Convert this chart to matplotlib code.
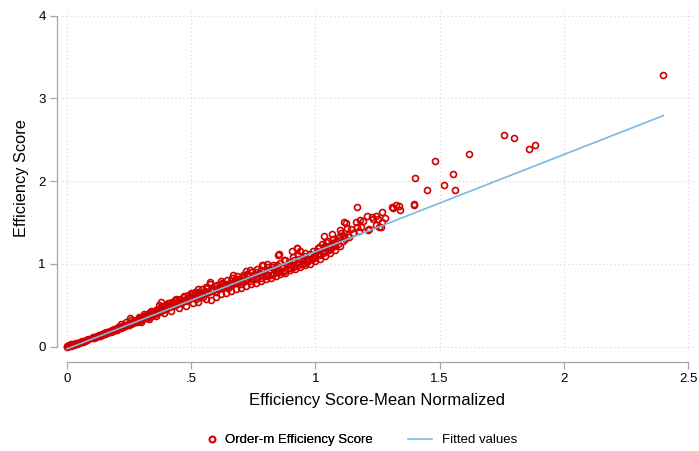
import matplotlib
matplotlib.use("Agg")
import matplotlib.pyplot as plt
from matplotlib.lines import Line2D
import numpy as np

plt.rcParams['font.family'] = ['Liberation Sans', 'DejaVu Sans']

# ---- data ----
# Efficiency Score-Mean Normalized (x) and Order-m Efficiency Score (y)
seg_a_x = [0.000, 0.003, 0.006, 0.008, 0.011, 0.014, 0.016, 0.019, 0.022, 0.025, 0.028, 0.031, 0.034,
           0.038, 0.041, 0.045, 0.048, 0.052, 0.056, 0.060, 0.064, 0.068, 0.072, 0.076, 0.080, 0.084]
seg_a_y = [0.000, 0.008, 0.004, 0.015, 0.010, 0.020, 0.012, 0.025, 0.018, 0.030, 0.024, 0.036, 0.030,
           0.042, 0.035, 0.048, 0.043, 0.055, 0.050, 0.062, 0.057, 0.072, 0.066, 0.080, 0.075, 0.090]

seg_b_x = [0.100, 0.104, 0.108, 0.112, 0.116, 0.120, 0.124, 0.128, 0.132, 0.136, 0.140, 0.144, 0.148,
           0.152, 0.156, 0.160, 0.164, 0.168, 0.172, 0.176, 0.180, 0.184, 0.188, 0.192, 0.196]
seg_b_y = [0.100, 0.112, 0.105, 0.120, 0.113, 0.128, 0.121, 0.136, 0.127, 0.145, 0.138, 0.152, 0.146,
           0.165, 0.154, 0.172, 0.163, 0.180, 0.170, 0.192, 0.178, 0.200, 0.188, 0.210, 0.197]

seg_c_x = [0.200, 0.204, 0.208, 0.212, 0.216, 0.220, 0.224, 0.228, 0.232, 0.236, 0.240, 0.244, 0.248,
           0.252, 0.256, 0.260, 0.264, 0.268, 0.272, 0.276, 0.280, 0.284, 0.288, 0.292, 0.296]
seg_c_y = [0.215, 0.205, 0.230, 0.218, 0.240, 0.226, 0.250, 0.236, 0.262, 0.245, 0.300, 0.256, 0.275,
           0.262, 0.290, 0.272, 0.300, 0.282, 0.310, 0.292, 0.322, 0.300, 0.330, 0.310, 0.340]

seg_d_x = [0.300, 0.304, 0.308, 0.312, 0.316, 0.320, 0.324, 0.328, 0.332, 0.336, 0.340, 0.344, 0.348,
           0.352, 0.356, 0.360, 0.364, 0.368, 0.372, 0.376, 0.380, 0.384, 0.388, 0.392, 0.396]
seg_d_y = [0.318, 0.355, 0.330, 0.365, 0.340, 0.380, 0.350, 0.392, 0.360, 0.400, 0.372, 0.412, 0.385,
           0.425, 0.396, 0.440, 0.405, 0.455, 0.418, 0.470, 0.430, 0.495, 0.442, 0.480, 0.452]

seg_e_x = [0.400, 0.404, 0.408, 0.412, 0.416, 0.420, 0.424, 0.428, 0.432, 0.436, 0.440, 0.444, 0.448,
           0.452, 0.456, 0.460, 0.464, 0.468, 0.472, 0.476, 0.480, 0.484, 0.488, 0.492, 0.496]
seg_e_y = [0.500, 0.460, 0.520, 0.472, 0.505, 0.485, 0.535, 0.492, 0.520, 0.505, 0.560, 0.515, 0.545,
           0.525, 0.575, 0.535, 0.560, 0.548, 0.595, 0.555, 0.580, 0.565, 0.620, 0.575, 0.600]

seg_f_x = [0.500, 0.505, 0.510, 0.515, 0.520, 0.525, 0.530, 0.535, 0.540, 0.545, 0.550, 0.555, 0.560,
           0.565, 0.570, 0.575, 0.580, 0.585, 0.590, 0.595]
seg_f_y = [0.585, 0.640, 0.595, 0.625, 0.605, 0.660, 0.612, 0.645, 0.625, 0.690, 0.635, 0.665, 0.648,
           0.710, 0.655, 0.780, 0.665, 0.700, 0.680, 0.735]

seg_g_x = [0.600, 0.605, 0.610, 0.615, 0.620, 0.625, 0.630, 0.635, 0.640, 0.645, 0.650, 0.655, 0.660,
           0.665, 0.670, 0.675, 0.680, 0.685, 0.690, 0.695]
seg_g_y = [0.690, 0.745, 0.700, 0.720, 0.712, 0.770, 0.722, 0.750, 0.735, 0.800, 0.745, 0.770, 0.755,
           0.830, 0.765, 0.790, 0.775, 0.850, 0.790, 0.815]

seg_h_x = [0.700, 0.705, 0.710, 0.715, 0.720, 0.725, 0.730, 0.735, 0.740, 0.745, 0.750, 0.755, 0.760,
           0.765, 0.770, 0.775, 0.780, 0.785, 0.790, 0.795]
seg_h_y = [0.800, 0.845, 0.785, 0.830, 0.800, 0.880, 0.815, 0.855, 0.790, 0.900, 0.830, 0.870, 0.815,
           0.940, 0.845, 0.890, 0.830, 0.980, 0.860, 0.910]

seg_i_x = [0.800, 0.805, 0.810, 0.815, 0.820, 0.825, 0.830, 0.835, 0.840, 0.845, 0.850, 0.855, 0.860,
           0.865, 0.870, 0.875, 0.880, 0.885, 0.890, 0.895, 0.900, 0.907, 0.927, 0.940]
seg_i_y = [0.850, 1.000, 0.870, 0.920, 0.860, 0.960, 0.880, 0.935, 0.895, 0.990, 0.900, 1.120, 0.915,
           0.960, 0.905, 1.040, 0.930, 0.985, 0.945, 1.020, 0.950, 1.160, 1.190, 1.150]

seg_j_x = [0.905, 0.910, 0.915, 0.920, 0.925, 0.930, 0.935, 0.945, 0.950, 0.955, 0.960, 0.965, 0.970,
           0.975, 0.980, 0.985, 0.990, 0.995]
seg_j_y = [0.990, 0.960, 1.040, 0.975, 1.010, 0.990, 1.060, 1.000, 1.040, 1.010, 1.090, 1.025, 1.060,
           1.040, 1.120, 1.055, 1.085, 1.065]

seg_k_x = [1.000, 1.005, 1.010, 1.015, 1.020, 1.025, 1.033, 1.030, 1.035, 1.040, 1.045, 1.050, 1.055,
           1.060, 1.065, 1.069, 1.073, 1.075, 1.080, 1.085, 1.090, 1.095, 1.100, 1.105]
seg_k_y = [1.080, 1.160, 1.100, 1.200, 1.110, 1.240, 1.340, 1.130, 1.190, 1.150, 1.260, 1.280, 1.170,
           1.220, 1.190, 1.360, 1.300, 1.230, 1.210, 1.270, 1.240, 1.320, 1.410, 1.370]

seg_l_x = [1.110, 1.115, 1.117, 1.120, 1.123, 1.127, 1.130, 1.135, 1.143, 1.150, 1.163, 1.166, 1.167,
           1.175, 1.180, 1.183, 1.190, 1.208, 1.210, 1.217, 1.230, 1.231, 1.244, 1.245, 1.251, 1.257,
           1.264, 1.270, 1.270, 1.280]
seg_l_y = [1.280, 1.330, 1.510, 1.300, 1.490, 1.430, 1.350, 1.320, 1.420, 1.370, 1.500, 1.680, 1.440,
           1.400, 1.530, 1.440, 1.520, 1.580, 1.410, 1.420, 1.570, 1.540, 1.575, 1.470, 1.535, 1.440,
           1.450, 1.630, 1.510, 1.550]

seg_m_x = [1.307, 1.313, 1.325, 1.337, 1.342, 1.396, 1.398, 1.400, 1.450, 1.480, 1.517, 1.555, 1.560,
           1.620, 1.760, 1.800, 1.860, 1.885, 2.400]
seg_m_y = [1.680, 1.670, 1.710, 1.700, 1.650, 1.720, 1.710, 2.040, 1.895, 2.240, 1.950, 2.080, 1.890,
           2.330, 2.550, 2.520, 2.390, 2.430, 3.280]

# lower edge of the dense band
seg_n_x = [0.30, 0.33, 0.36, 0.39, 0.42, 0.45, 0.48, 0.51, 0.53, 0.56, 0.58, 0.60, 0.62, 0.64, 0.66,
           0.68, 0.70, 0.72, 0.74, 0.76, 0.78, 0.80, 0.82, 0.84, 0.86, 0.88, 0.90, 0.92, 0.94, 0.96,
           0.98, 1.00, 1.02, 1.04, 1.06, 1.08, 1.10]
seg_n_y = [0.30, 0.33, 0.37, 0.40, 0.43, 0.46, 0.49, 0.52, 0.54, 0.57, 0.56, 0.60, 0.63, 0.65, 0.67,
           0.69, 0.71, 0.73, 0.75, 0.77, 0.79, 0.81, 0.83, 0.85, 0.88, 0.89, 0.92, 0.94, 0.96, 0.98,
           1.00, 1.03, 1.06, 1.09, 1.13, 1.17, 1.22]

# upper side of the dense band
seg_o_x = [0.43, 0.46, 0.49, 0.52, 0.54, 0.57, 0.59, 0.61, 0.63, 0.66, 0.68, 0.71, 0.73, 0.76, 0.78,
           0.81, 0.83, 0.86, 0.88, 0.91, 0.93, 0.96, 0.99, 1.01, 1.04, 1.07, 1.09,
           0.22, 0.26, 0.29, 0.31, 0.34, 0.37, 0.38, 0.41, 0.44, 0.47, 0.50, 0.53, 0.56, 0.62, 0.67, 0.72]
seg_o_y = [0.50, 0.53, 0.57, 0.58, 0.62, 0.66, 0.69, 0.71, 0.76, 0.79, 0.82, 0.86, 0.87, 0.90, 0.93,
           0.96, 0.99, 1.01, 1.05, 1.08, 1.10, 1.13, 1.16, 1.19, 1.21, 1.25, 1.29,
           0.27, 0.32, 0.36, 0.39, 0.43, 0.50, 0.54, 0.53, 0.57, 0.61, 0.65, 0.69, 0.72, 0.79, 0.86, 0.91]

# middle of the band and scattered high points
seg_p_x = [0.55, 0.60, 0.65, 0.70, 0.75, 0.80, 0.85, 0.90, 0.95, 1.00, 1.05,
           0.253, 0.334, 0.435, 0.516, 0.577, 0.737, 0.790, 0.850, 0.925]
seg_p_y = [0.60, 0.66, 0.71, 0.76, 0.82, 0.88, 0.94, 0.99, 1.05, 1.11, 1.17,
           0.340, 0.420, 0.560, 0.660, 0.760, 0.920, 0.985, 1.100, 1.190]

# Fitted values (end points of the linear fit line)
fit_x = [0.0, 2.40]
fit_y = [-0.03, 2.79]

xticks = [0, 0.5, 1, 1.5, 2, 2.5]
xticklabels = ['0', '.5', '1', '1.5', '2', '2.5']
yticks = [0, 1, 2, 3, 4]
yticklabels = ['0', '1', '2', '3', '4']

score_norm = np.concatenate([seg_a_x, seg_b_x, seg_c_x, seg_d_x, seg_e_x, seg_f_x, seg_g_x,
                             seg_h_x, seg_i_x, seg_j_x, seg_k_x, seg_l_x, seg_m_x,
                             seg_n_x, seg_o_x, seg_p_x])
score_orderm = np.concatenate([seg_a_y, seg_b_y, seg_c_y, seg_d_y, seg_e_y, seg_f_y, seg_g_y,
                               seg_h_y, seg_i_y, seg_j_y, seg_k_y, seg_l_y, seg_m_y,
                               seg_n_y, seg_o_y, seg_p_y])

RED = '#d20000'
BLUE = '#7bb9e2'
GRAY = '#a6a6a6'

W, H = 699, 451
fig = plt.figure(figsize=(W / 100, H / 100), dpi=100)

# axes placed in pixel coordinates
xlim = (-0.02, 2.53)
ylim = (-0.05, 4.05)
px_per_x = 248.6
px_per_y = 82.75
x0_px = 66.7
y0_px = 346.5
left_px = x0_px + xlim[0] * px_per_x
right_px = x0_px + xlim[1] * px_per_x
bottom_px = y0_px - ylim[0] * px_per_y
top_px = y0_px - ylim[1] * px_per_y
ax = fig.add_axes([left_px / W, 1 - bottom_px / H, (right_px - left_px) / W, (bottom_px - top_px) / H])
ax.set_xlim(*xlim)
ax.set_ylim(*ylim)

ax.grid(True, color='#d4d4d4', linestyle=(0, (1, 2.5)), linewidth=0.8)
ax.set_axisbelow(True)

MS = 4.3
MEW = 1.2
ax.plot(score_norm, score_orderm, linestyle='none', marker='o', markersize=MS,
        markerfacecolor='none', markeredgecolor=RED, markeredgewidth=MEW, zorder=3)
ax.plot(fit_x, fit_y, color=BLUE, linewidth=1.2, zorder=4)

for s in ['top', 'right']:
    ax.spines[s].set_visible(False)
ax.spines['left'].set_position(('outward', (left_px - 57) * 0.72))
ax.spines['bottom'].set_position(('outward', (362 - bottom_px) * 0.72))
ax.spines['left'].set_bounds(0, 4)
ax.spines['bottom'].set_bounds(0, 2.5)
for s in ['left', 'bottom']:
    ax.spines[s].set_color(GRAY)
    ax.spines[s].set_linewidth(0.9)

ax.set_xticks(xticks)
ax.set_xticklabels(xticklabels)
ax.set_yticks(yticks)
ax.set_yticklabels(yticklabels)
ax.tick_params(axis='both', colors=GRAY, labelcolor='black', labelsize=9.5, length=5, width=0.9)
ax.tick_params(axis='x', pad=3)
ax.tick_params(axis='y', pad=3)

fig.text(377 / W, 1 - 400 / H, 'Efficiency Score-Mean Normalized', ha='center', va='center', fontsize=12)
fig.text(22 / W, 1 - 178 / H, 'Efficiency Score', ha='center', va='center', rotation=90, fontsize=11.8)

h1 = Line2D([], [], linestyle='none', marker='o', markersize=MS, markerfacecolor='none',
            markeredgecolor=RED, markeredgewidth=MEW)
h2 = Line2D([], [], color=BLUE, linewidth=1.2)
leg1 = fig.legend([h1], ['Order-m Efficiency Score'], loc='center left',
                  bbox_to_anchor=(205.4 / W, 1 - 440 / H), frameon=False, fontsize=9.5,
                  handlelength=1.0, handletextpad=0.5, borderpad=0, borderaxespad=0)
leg2 = fig.legend([h2], ['Fitted values'], loc='center left',
                  bbox_to_anchor=(408 / W, 1 - 440 / H), frameon=False, fontsize=9.5,
                  handlelength=1.82, handletextpad=0.76, borderpad=0, borderaxespad=0)
fig.add_artist(leg1)

fig.savefig('out.png', dpi=100)
